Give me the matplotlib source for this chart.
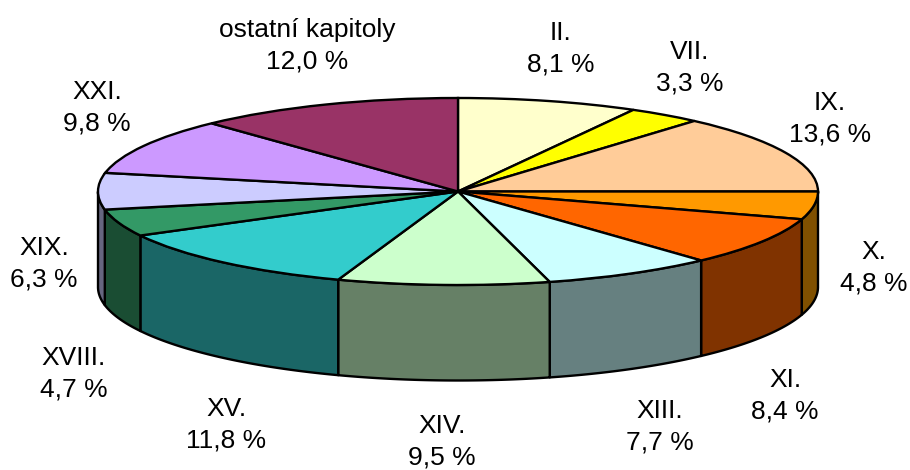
import numpy as np
import matplotlib
matplotlib.use("Agg")
import matplotlib.pyplot as plt

labels = ["II.", "VII.", "IX.", "X.", "XI.", "XIII.", "XIV.", "XV.", "XVIII.", "XIX.", "XXI.", "ostatní kapitoly"]
values = [8.1, 3.3, 13.6, 4.8, 8.4, 7.7, 9.5, 11.8, 4.7, 6.3, 9.8, 12.0]
top_colors = ["#FFFFCC", "#FFFF00", "#FFCC99", "#FF9900", "#FF6600", "#CCFFFF",
              "#CCFFCC", "#33CCCC", "#339966", "#CCCCFF", "#CC99FF", "#993366"]
side_colors = ["#808066", "#808000", "#806650", "#805000", "#803300", "#668080",
               "#668066", "#1A6666", "#1A4D33", "#666680", "#664D80", "#4D1A33"]
label_px = [(561, 49), (690, 68), (830, 119), (874, 268), (785, 396), (660, 427),
            (442, 442), (226, 425), (74, 374), (44, 264), (97, 108), (307, 46)]

W, H = 910, 470
CX, CY, RX, RY, DEPTH = 458, 191.5, 360, 93.5, 95.5
LW = 1.7

fig = plt.figure(figsize=(W / 100, H / 100), dpi=100)
ax = fig.add_axes([0, 0, 1, 1])
depth = DEPTH / RY

fractions = np.array(values) / sum(values)
ends = 90 - 360 * np.cumsum(fractions)
starts = np.r_[90, ends[:-1]]
for a0, a1, col in zip(starts, ends, side_colors):
    th = np.linspace(a1, a0, 200)
    th = th[np.sin(np.radians(th)) <= 0]
    if len(th) < 2:
        continue
    x = np.cos(np.radians(th))
    y = np.sin(np.radians(th))
    ax.fill(np.r_[x, x[::-1]], np.r_[y, (y - depth)[::-1]],
            facecolor=col, edgecolor="black", linewidth=LW, joinstyle="round", zorder=1)

ax.pie(values, colors=top_colors, startangle=90, counterclock=False, radius=1,
       wedgeprops=dict(edgecolor="black", linewidth=LW, zorder=2), normalize=True)

ax.set_aspect("auto")
ax.set_xlim(-CX / RX, (W - CX) / RX)
ax.set_ylim(-(H - CY) / RY, CY / RY)
ax.axis("off")

for name, v, (px, py) in zip(labels, values, label_px):
    ax.text((px - CX) / RX, (CY - py) / RY,
            name + "\n" + f"{v:.1f}".replace(".", ",") + " %",
            ha="center", va="center", fontsize=19, family="Liberation Sans",
            linespacing=1.41, color="black", zorder=5)

fig.savefig("out.png", dpi=100, facecolor="white")
